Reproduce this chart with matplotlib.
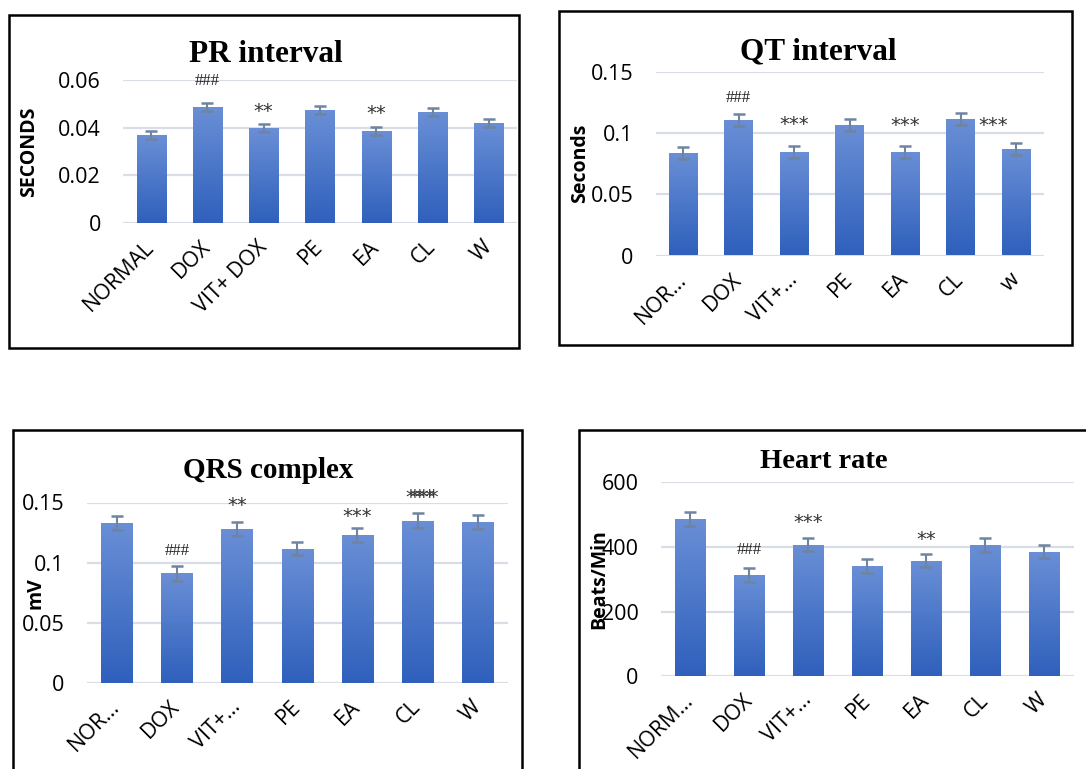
import numpy as np
import matplotlib
matplotlib.use("Agg")
import matplotlib.pyplot as plt
from matplotlib.colors import LinearSegmentedColormap
from matplotlib.patches import Rectangle

plt.rcParams['font.family'] = ['Open Sans', 'DejaVu Sans']

W, H = 1086, 769

# ECG parameters per group (mean, SEM)
pr_labels = ['NORMAL', 'DOX', 'VIT+ DOX', 'PE', 'EA', 'CL', 'W']
pr_vals = [0.0368, 0.0486, 0.0398, 0.0474, 0.0386, 0.0465, 0.0419]
pr_err = [0.0017, 0.0017, 0.0017, 0.0016, 0.0017, 0.0017, 0.0016]
pr_ticks = [0, 0.02, 0.04, 0.06]
pr_ticklabels = ['0', '0.02', '0.04', '0.06']

qt_labels = ['NOR…', 'DOX', 'VIT+…', 'PE', 'EA', 'CL', 'w']
qt_vals = [0.0838, 0.1107, 0.0846, 0.1066, 0.0846, 0.1115, 0.0870]
qt_err = [0.0050, 0.0050, 0.0050, 0.0048, 0.0050, 0.0050, 0.0050]
qt_ticks = [0, 0.05, 0.1, 0.15]
qt_ticklabels = ['0', '0.05', '0.1', '0.15']

qrs_labels = ['NOR…', 'DOX', 'VIT+…', 'PE', 'EA', 'CL', 'W']
qrs_vals = [0.133, 0.091, 0.128, 0.1115, 0.123, 0.135, 0.134]
qrs_err = [0.006, 0.006, 0.006, 0.0055, 0.006, 0.006, 0.006]
qrs_ticks = [0, 0.05, 0.1, 0.15]
qrs_ticklabels = ['0', '0.05', '0.1', '0.15']

hr_labels = ['NORM…', 'DOX', 'VIT+…', 'PE', 'EA', 'CL', 'W']
hr_vals = [488, 314, 408, 342, 358, 407, 386]
hr_err = [22, 22, 21, 21, 21, 21, 20]
hr_ticks = [0, 200, 400, 600]
hr_ticklabels = ['0', '200', '400', '600']

# significance marks: (bar index, text, x shift px, y gap px above error cap)
pr_marks = [(1, '###', 0, 22), (2, '**', 0, 13), (4, '**', 0, 13)]
qt_marks = [(1, '###', 0, 16), (2, '***', 0, 21), (4, '***', 0, 20), (6, '***', -23.5, 17)]
qrs_marks = [(1, '###', 0, 15), (2, '**', 0, 16), (4, '***', 0, 11), (5, '***', 2, 16), (5, '***', 6, 16)]
hr_marks = [(1, '###', 0, 18), (2, '***', 0, 15), (4, '**', 0, 14)]

bar_cmap = LinearSegmentedColormap.from_list('bar', ['#2f60bc', '#6a8fd6'])
grad = np.linspace(0, 1, 256).reshape(-1, 1)

fig = plt.figure(figsize=(W / 100, H / 100), dpi=100)


def frame(x0, y0, x1, y1):
    fig.patches.append(Rectangle((x0 / W, 1 - y1 / H), (x1 - x0) / W, (y1 - y0) / H,
                                 transform=fig.transFigure, fill=False,
                                 edgecolor='black', lw=1.8, zorder=0))


def panel(rect, labels, vals, errs, ticks, ticklabels, ylabel, ylabel_x, title, title_xy,
          title_size, marks):
    x0, x1, ytop, ybot = rect
    ax = fig.add_axes([x0 / W, 1 - ybot / H, (x1 - x0) / W, (ybot - ytop) / H])
    x = np.arange(len(vals))
    bars = ax.bar(x, vals, width=0.52, color='none', zorder=2)
    for b in bars:
        bx = b.get_x()
        im = ax.imshow(grad, extent=[bx, bx + b.get_width(), 0, b.get_height()],
                       origin='lower', aspect='auto', cmap=bar_cmap, zorder=2)
        im.set_clip_path(b)
    ax.errorbar(x, vals, yerr=errs, fmt='none', ecolor='#6f84a0', elinewidth=1.5,
                capsize=4.5, capthick=1.8, zorder=3)
    ax.set_xlim(-0.5, len(vals) - 0.5)
    ax.set_ylim(ticks[0], ticks[-1])
    ax.set_yticks(ticks, ticklabels, fontsize=15.5)
    ax.set_xticks(x, labels, fontsize=15.5, rotation=45, ha='right', va='center',
                  rotation_mode='anchor')
    ax.tick_params(axis='x', length=0, pad=15)
    ax.tick_params(axis='y', length=0, pad=16)
    ax.yaxis.grid(True, color='#d9dee6', lw=1.6)
    ax.set_axisbelow(True)
    for s in ax.spines.values():
        s.set_visible(False)
    ax.set_ylabel(ylabel, fontsize=14, fontweight='bold', va='center')
    ax.yaxis.set_label_coords((ylabel_x - x0) / (x1 - x0), 0.5)
    fig.text(title_xy[0] / W, 1 - title_xy[1] / H, title, family='Liberation Serif',
             fontweight='bold', fontsize=title_size, ha='center', va='center')
    for i, txt, dx, dy in marks:
        if txt.startswith('#'):
            style = dict(family='Liberation Serif', fontsize=12, color='#222222')
        else:
            style = dict(family='DejaVu Sans', fontsize=14, color='#333333')
        ax.annotate(txt, (x[i], vals[i] + errs[i]), xytext=(dx * 0.72, dy * 0.72),
                    textcoords='offset points', ha='center', va='center', **style)
    return ax


frame(9, 15, 519, 348)
frame(559, 11, 1072, 345)
frame(13, 430, 522, 790)
frame(579, 430, 1110, 790)

panel((123, 517, 80, 223), pr_labels, pr_vals, pr_err, pr_ticks, pr_ticklabels,
      'SECONDS', 29, 'PR interval', (266, 55), 22.5, pr_marks)
panel((655.5, 1044, 72, 255.5), qt_labels, qt_vals, qt_err, qt_ticks, qt_ticklabels,
      'Seconds', 580, 'QT interval', (818, 52), 22.5, qt_marks)
panel((86.6, 508, 502.5, 683), qrs_labels, qrs_vals, qrs_err, qrs_ticks, qrs_ticklabels,
      'mV', 36, 'QRS complex', (268, 470), 21, qrs_marks)
panel((660.7, 1073.8, 482.5, 676.3), hr_labels, hr_vals, hr_err, hr_ticks, hr_ticklabels,
      'Beats/Min', 599, 'Heart rate', (824, 462), 20.5, hr_marks)

fig.savefig('out.png', dpi=100, facecolor='white')
